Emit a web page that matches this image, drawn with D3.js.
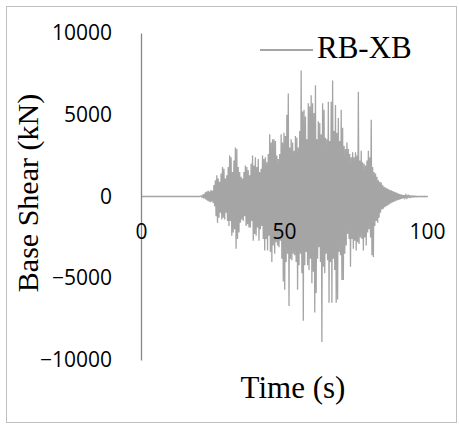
<!DOCTYPE html>
<html>
<head>
<meta charset="utf-8">
<script src="https://cdn.jsdelivr.net/npm/d3@7"></script>
<style>
  html, body { margin: 0; padding: 0; background: #fff; }
  svg { display: block; }
</style>
</head>
<body>
<svg id="chart" width="459" height="426"></svg>
<script>
// Base shear time history, RB-XB model.
// Response is quiet until ~21 s, then each half-second holds one positive and one negative peak (kN).
const seriesName = "RB-XB";
const quietEnd = 20.5;          // s, last point of the quiet lead-in
const peakStart = 21;           // s, first sampled cycle
const peakStep = 0.5;           // s, spacing of the sampled cycles
const endTime = 100;            // s

const peakPos = [
  30, 60, 150, 250, 300, 350, 300, 400, 350, 700,
  1000, 1300, 1100, 900, 1400, 1800, 1700, 1100, 1300, 1800,
  2500, 2400, 1500, 2200, 3000, 2900, 1800, 1500, 1200, 1100,
  1500, 1900, 1800, 1600, 1300, 2000, 2500, 1900, 2400, 1800,
  2300, 1500, 1700, 2500, 2300, 2400, 2100, 2600, 3800, 3300,
  3500, 3500, 3400, 2500, 2300, 2600, 3800, 3300, 3900, 3700,
  5000, 6300, 3000, 3500, 3300, 2800, 3700, 3600, 3000, 4000,
  7700, 5200, 5300, 4900, 3500, 5700, 5500, 6200, 5700, 5100,
  6800, 3500, 4600, 4500, 3800, 5700, 5300, 3600, 3500, 5800,
  3400, 5800, 7100, 4000, 5600, 3900, 4800, 3400, 5300, 4200,
  3100, 2900, 3300, 2900, 2600, 2400, 2700, 2400, 2700, 2500,
  6400, 2200, 2800, 2100, 2000, 1900, 2200, 2800, 2400, 4700,
  1800, 1500, 1400, 1200, 1000, 900, 850, 700, 600, 550,
  500, 450, 400, 380, 330, 290, 250, 220, 180, 150,
  120, 100, 85, 70, 60, 50, 40, 35, 30, 25,
  20, 15, 15, 15, 15, 15, 15, 15, 15
];

const peakNeg = [
  -30, -50, -120, -200, -250, -300, -350, -300, -400, -600,
  -1200, -1600, -1300, -1000, -1400, -1300, -1400, -1000, -1500, -1800,
  -1500, -2400, -2200, -2000, -3200, -2600, -2200, -1600, -1400, -1500,
  -1200, -1800, -1700, -1900, -1900, -1500, -2700, -2300, -2400, -1900,
  -2700, -2000, -1800, -2600, -3300, -2600, -3300, -2400, -3400, -4000,
  -3000, -3500, -2800, -3000, -3100, -2700, -3800, -5200, -5700, -4000,
  -3500, -6700, -3800, -3900, -3500, -3600, -4000, -5700, -4200, -3500,
  -4700, -7600, -4200, -3400, -4200, -4500, -3800, -5300, -4600, -7100,
  -5900, -3800, -3100, -4000, -8900, -4300, -4700, -3500, -3900, -6500,
  -4000, -6500, -3800, -4500, -6500, -6300, -3400, -3600, -5100, -5100,
  -3500, -3000, -2300, -2600, -4300, -2600, -3200, -2700, -3300, -2800,
  -2900, -2500, -2600, -3300, -2500, -3000, -2200, -2000, -2500, -3600,
  -3700, -1800, -1500, -1600, -1300, -1000, -800, -750, -650, -600,
  -550, -480, -420, -380, -340, -300, -260, -230, -190, -160,
  -130, -110, -90, -75, -60, -50, -40, -35, -30, -25,
  -20, -15, -15, -15, -15, -15, -15, -15, -15
];

const xTicks = [0, 50, 100];
const yTicks = [-10000, -5000, 0, 5000, 10000];
const xTitle = "Time (s)";
const yTitle = "Base Shear (kN)";

// Assemble the trace: flat lead-in, then alternating peaks a quarter step apart.
const trace = [[0, 0], [quietEnd, 0]];
peakPos.forEach((p, i) => {
  const t = peakStart + i * peakStep;
  trace.push([t, p]);
  trace.push([t + peakStep / 2, peakNeg[i]]);
});
trace.push([endTime, 0]);

const svg = d3.select("#chart");
const W = 459, H = 426;

// outer frame
svg.append("rect")
  .attr("x", 6.5).attr("y", 6.5)
  .attr("width", 450).attr("height", 416)
  .attr("fill", "#fff")
  .attr("stroke", "#bfbfbf").attr("stroke-width", 1);

const x = d3.scaleLinear().domain([0, 100]).range([141, 427]);
const y = d3.scaleLinear().domain([-10000, 10000]).range([360, 33]);

const tickFont = "'Open Sans', 'Noto Sans', sans-serif";
const titleFont = "'Liberation Serif', 'DejaVu Serif', serif";

// series
const line = d3.line().x(d => x(d[0])).y(d => y(d[1]));
svg.append("path")
  .datum(trace)
  .attr("fill", "none")
  .attr("stroke", "#a5a5a5")
  .attr("stroke-width", 1.3)
  .attr("stroke-linejoin", "miter")
  .attr("d", line);

// y axis
const yAxis = svg.append("g")
  .attr("transform", `translate(${x(0)},0)`)
  .call(d3.axisLeft(y).tickValues(yTicks).tickSize(0).tickPadding(29).tickFormat(d3.format("d")));
yAxis.select(".domain").attr("stroke", "#868686").attr("stroke-width", 1.3);
yAxis.selectAll("text")
  .attr("font-family", tickFont).attr("font-size", 21).attr("fill", "#000");

// x axis (labels only; the trace sits on the zero line)
const xAxis = svg.append("g")
  .attr("transform", `translate(0,${y(0)})`)
  .call(d3.axisBottom(x).tickValues(xTicks).tickSize(0).tickPadding(28).tickFormat(d3.format("d")));
xAxis.select(".domain").remove();
xAxis.selectAll("text")
  .attr("font-family", tickFont).attr("font-size", 21).attr("fill", "#000");

// axis titles
svg.append("text")
  .attr("x", 293).attr("y", 398)
  .attr("text-anchor", "middle")
  .attr("font-family", titleFont).attr("font-size", 31).attr("fill", "#000")
  .text(xTitle);

svg.append("text")
  .attr("transform", "translate(38,193) rotate(-90)")
  .attr("text-anchor", "middle")
  .attr("font-family", titleFont).attr("font-size", 30).attr("fill", "#000")
  .text(yTitle);

// legend
const legend = svg.append("g");
legend.append("line")
  .attr("x1", 260).attr("x2", 313).attr("y1", 50).attr("y2", 50)
  .attr("stroke", "#a5a5a5").attr("stroke-width", 2.2);
legend.append("text")
  .attr("x", 317).attr("y", 58)
  .attr("font-family", titleFont).attr("font-size", 31).attr("fill", "#000")
  .text(seriesName);
</script>
</body>
</html>
